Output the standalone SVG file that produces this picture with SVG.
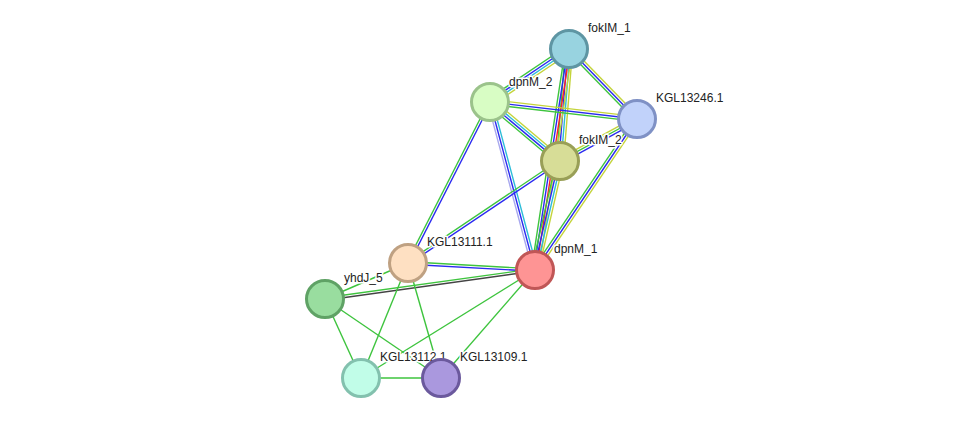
<svg xmlns="http://www.w3.org/2000/svg" width="976" height="424" viewBox="0 0 976 424">
<style>
line{stroke-width:1.4;fill:none}
.g{stroke:#3ec43e}.b{stroke:#2a2af0}.c{stroke:#2cbcd8}.y{stroke:#c4d43a}.r{stroke:#ff2222}.l{stroke:#a8a8ee}.k{stroke:#444}
.node circle{stroke-width:3}
text{font-family:"Liberation Sans",Arial,sans-serif;font-size:12px;fill:#222;stroke:#fff;stroke-width:3px;paint-order:stroke;stroke-linejoin:round}
</style>
<rect width="976" height="424" fill="#fff"/>
<g id="edges">
<g transform="translate(569,49) rotate(146.1)"><line class="y" x1="0" y1="-3.6" x2="95.1" y2="-3.6"/><line class="c" x1="0" y1="-1.2" x2="95.1" y2="-1.2"/><line class="b" x1="0" y1="1.2" x2="95.1" y2="1.2"/><line class="g" x1="0" y1="3.6" x2="95.1" y2="3.6"/></g>
<g transform="translate(569,49) rotate(45.8)"><line class="y" x1="0" y1="-2.4" x2="97.6" y2="-2.4"/><line class="b" x1="0" y1="0" x2="97.6" y2="0"/><line class="g" x1="0" y1="2.4" x2="97.6" y2="2.4"/></g>
<g transform="translate(569,49) rotate(94.6)"><line class="y" x1="0" y1="-3.6" x2="112.4" y2="-3.6"/><line class="c" x1="0" y1="-1.2" x2="112.4" y2="-1.2"/><line class="b" x1="0" y1="1.2" x2="112.4" y2="1.2"/><line class="g" x1="0" y1="3.6" x2="112.4" y2="3.6"/></g>
<g transform="translate(569,49) rotate(98.75)"><line class="y" x1="0" y1="-3.6" x2="223.6" y2="-3.6"/><line class="r" x1="0" y1="-1.2" x2="223.6" y2="-1.2"/><line class="b" x1="0" y1="1.2" x2="223.6" y2="1.2"/><line class="g" x1="0" y1="3.6" x2="223.6" y2="3.6"/></g>
<g transform="translate(490,102) rotate(6.6)"><line class="y" x1="0" y1="-2.4" x2="148" y2="-2.4"/><line class="b" x1="0" y1="0" x2="148" y2="0"/><line class="g" x1="0" y1="2.4" x2="148" y2="2.4"/></g>
<g transform="translate(490,102) rotate(40.1)"><line class="y" x1="0" y1="-3.6" x2="91.5" y2="-3.6"/><line class="c" x1="0" y1="-1.2" x2="91.5" y2="-1.2"/><line class="b" x1="0" y1="1.2" x2="91.5" y2="1.2"/><line class="g" x1="0" y1="3.6" x2="91.5" y2="3.6"/></g>
<g transform="translate(490,102) rotate(117)"><line class="b" x1="0" y1="-1.2" x2="180.7" y2="-1.2"/><line class="g" x1="0" y1="1.2" x2="180.7" y2="1.2"/></g>
<g transform="translate(490,102) rotate(75)"><line class="c" x1="0" y1="-2.4" x2="173.9" y2="-2.4"/><line class="b" x1="0" y1="0" x2="173.9" y2="0"/><line class="l" x1="0" y1="2.4" x2="173.9" y2="2.4"/></g>
<g transform="translate(637,119) rotate(151.4)"><line class="b" x1="0" y1="-2.4" x2="87.7" y2="-2.4"/><line class="g" x1="0" y1="0" x2="87.7" y2="0"/><line class="y" x1="0" y1="2.4" x2="87.7" y2="2.4"/></g>
<g transform="translate(637,119) rotate(124)"><line class="y" x1="0" y1="-2.4" x2="182.2" y2="-2.4"/><line class="b" x1="0" y1="0" x2="182.2" y2="0"/><line class="g" x1="0" y1="2.4" x2="182.2" y2="2.4"/></g>
<g transform="translate(560,161) rotate(146.1)"><line class="b" x1="0" y1="-1.2" x2="183.1" y2="-1.2"/><line class="g" x1="0" y1="1.2" x2="183.1" y2="1.2"/></g>
<g transform="translate(560,161) rotate(102.9)"><line class="y" x1="0" y1="-3.6" x2="111.8" y2="-3.6"/><line class="c" x1="0" y1="-1.2" x2="111.8" y2="-1.2"/><line class="b" x1="0" y1="1.2" x2="111.8" y2="1.2"/><line class="g" x1="0" y1="3.6" x2="111.8" y2="3.6"/></g>
<g transform="translate(408,263) rotate(3.2)"><line class="g" x1="0" y1="-1.2" x2="127.2" y2="-1.2"/><line class="b" x1="0" y1="1.2" x2="127.2" y2="1.2"/></g>
<g transform="translate(325,299) rotate(-7.9)"><line class="g" x1="0" y1="-1.2" x2="212" y2="-1.2"/><line class="k" x1="0" y1="1.2" x2="212" y2="1.2"/></g>
<line class="g" x1="408" y1="263" x2="325" y2="299"/>
<line class="g" x1="408" y1="263" x2="361" y2="378"/>
<line class="g" x1="408" y1="263" x2="441" y2="378"/>
<line class="g" x1="325" y1="299" x2="361" y2="378"/>
<line class="g" x1="325" y1="299" x2="441" y2="378"/>
<line class="g" x1="535" y1="270" x2="361" y2="378"/>
<line class="g" x1="535" y1="270" x2="441" y2="378"/>
<line class="g" x1="361" y1="378" x2="441" y2="378"/>
</g>
<g id="n-fokIM_1" class="node"><circle cx="569" cy="49" r="18.5" fill="#98d3e0" stroke="#5e95a3"/><text x="588" y="32">fokIM_1</text></g>
<g id="n-dpnM_2" class="node"><circle cx="490" cy="102" r="18.5" fill="#d8fdc4" stroke="#9bc38b"/><text x="509" y="86">dpnM_2</text></g>
<g id="n-KGL13246.1" class="node"><circle cx="637" cy="119" r="18.5" fill="#c1d2fa" stroke="#7f91c5"/><text x="656" y="102">KGL13246.1</text></g>
<g id="n-fokIM_2" class="node"><circle cx="560" cy="161" r="18.5" fill="#d7dd97" stroke="#999f57"/><text x="579" y="144">fokIM_2</text></g>
<g id="n-KGL13111.1" class="node"><circle cx="408" cy="263" r="18.5" fill="#fee0c2" stroke="#bfa182"/><text x="427" y="246">KGL13111.1</text></g>
<g id="n-dpnM_1" class="node"><circle cx="535" cy="270" r="18.5" fill="#fe9494" stroke="#c05656"/><text x="554" y="253">dpnM_1</text></g>
<g id="n-yhdJ_5" class="node"><circle cx="325" cy="299" r="18.5" fill="#99dd9f" stroke="#5fa265"/><text x="344" y="282">yhdJ_5</text></g>
<g id="n-KGL13112.1" class="node"><circle cx="361" cy="378" r="18.5" fill="#c1fde8" stroke="#83c1ae"/><text x="380" y="361">KGL13112.1</text></g>
<g id="n-KGL13109.1" class="node"><circle cx="441" cy="378" r="18.5" fill="#aa98de" stroke="#6b599d"/><text x="460" y="361">KGL13109.1</text></g>
</svg>
